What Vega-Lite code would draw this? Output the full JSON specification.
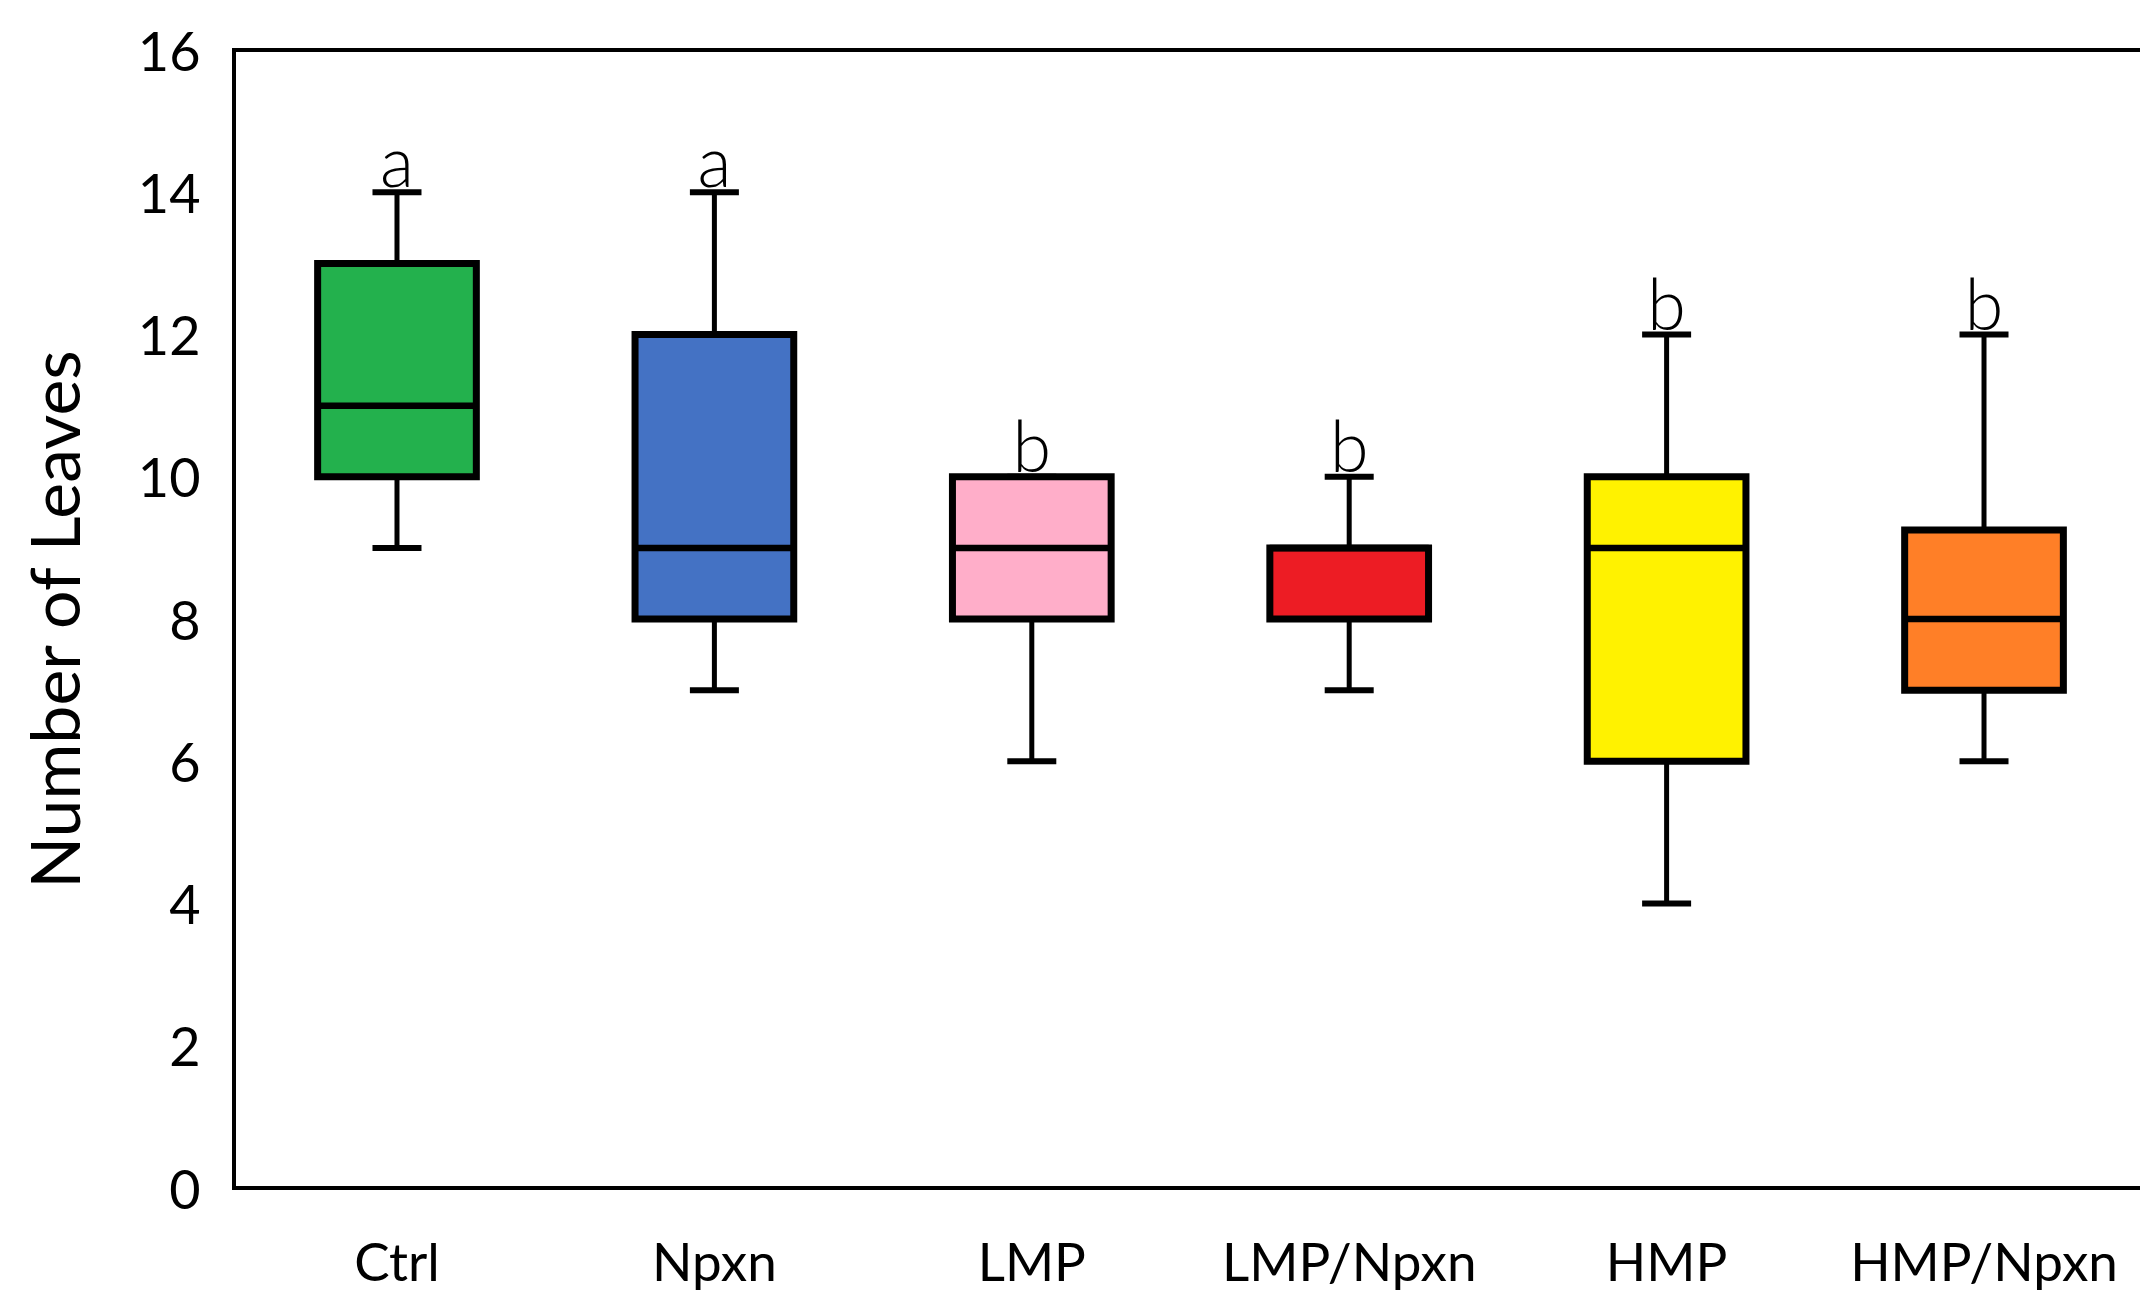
{
  "$schema": "https://vega.github.io/schema/vega-lite/v6.json",
  "width": 1913,
  "height": 1138,
  "autosize": {"type": "none"},
  "padding": {"left": 234, "top": 50, "right": 0, "bottom": 104},
  "background": "white",
  "config": {
    "view": {"stroke": "black", "strokeWidth": 4},
    "font": "Lato",
    "axis": {"labelFont": "Lato", "titleFont": "Lato", "labelColor": "black", "titleColor": "black", "grid": false, "ticks": false, "domain": false}
  },
  "data": {
    "values": [
      {"group": "Ctrl", "min": 9, "q1": 10, "median": 11, "q3": 13, "max": 14, "letter": "a"},
      {"group": "Npxn", "min": 7, "q1": 8, "median": 9, "q3": 12, "max": 14, "letter": "a"},
      {"group": "LMP", "min": 6, "q1": 8, "median": 9, "q3": 10, "max": 10, "letter": "b"},
      {"group": "LMP/Npxn", "min": 7, "q1": 8, "median": 9, "q3": 9, "max": 10, "letter": "b"},
      {"group": "HMP", "min": 4, "q1": 6, "median": 9, "q3": 10, "max": 12, "letter": "b"},
      {"group": "HMP/Npxn", "min": 6, "q1": 7, "median": 8, "q3": 9.25, "max": 12, "letter": "b"}
    ]
  },
  "encoding": {
    "x": {
      "field": "group", "type": "nominal", "sort": null,
      "scale": {"paddingInner": 0, "paddingOuter": 0.0135},
      "axis": {"title": null, "labelAngle": 0, "labelFontSize": 53, "labelPadding": 50, "labelLimit": 0}
    }
  },
  "layer": [
    {
      "mark": {"type": "rule", "color": "black", "strokeWidth": 5},
      "encoding": {
        "y": {
          "field": "min", "type": "quantitative",
          "scale": {"domain": [0, 16], "nice": false, "zero": true},
          "axis": {
            "values": [0, 2, 4, 6, 8, 10, 12, 14, 16], "format": "d",
            "labelFontSize": 54, "labelPadding": 34, "labelOffset": 4,
            "title": "Number of Leaves", "titleFontSize": 68, "titleFontWeight": "normal",
            "titleAngle": 270, "titleX": -155, "titleY": 569, "titleBaseline": "alphabetic", "titleAlign": "center"
          }
        },
        "y2": {"field": "max"}
      }
    },
    {
      "mark": {"type": "tick", "color": "black", "size": 49, "thickness": 6, "opacity": 1},
      "encoding": {"y": {"field": "min", "type": "quantitative"}}
    },
    {
      "mark": {"type": "tick", "color": "black", "size": 49, "thickness": 6, "opacity": 1},
      "encoding": {"y": {"field": "max", "type": "quantitative"}}
    },
    {
      "mark": {"type": "bar", "width": {"band": 0.5}, "stroke": "black", "strokeWidth": 7, "opacity": 1, "fillOpacity": 1},
      "encoding": {
        "y": {"field": "q1", "type": "quantitative"},
        "y2": {"field": "q3"},
        "fill": {
          "field": "group", "type": "nominal",
          "scale": {
            "domain": ["Ctrl", "Npxn", "LMP", "LMP/Npxn", "HMP", "HMP/Npxn"],
            "range": ["#23B14D", "#4472C4", "#FFAEC9", "#ED1C24", "#FFF200", "#FF7F27"]
          },
          "legend": null
        }
      }
    },
    {
      "mark": {"type": "tick", "color": "black", "size": 159, "thickness": 6.5, "opacity": 1},
      "encoding": {"y": {"field": "median", "type": "quantitative"}}
    },
    {
      "mark": {"type": "text", "font": "Lato", "fontWeight": 300, "fontSize": 70, "baseline": "alphabetic", "align": "center", "dy": -5, "color": "black"},
      "encoding": {
        "y": {"field": "max", "type": "quantitative"},
        "text": {"field": "letter"}
      }
    }
  ]
}
